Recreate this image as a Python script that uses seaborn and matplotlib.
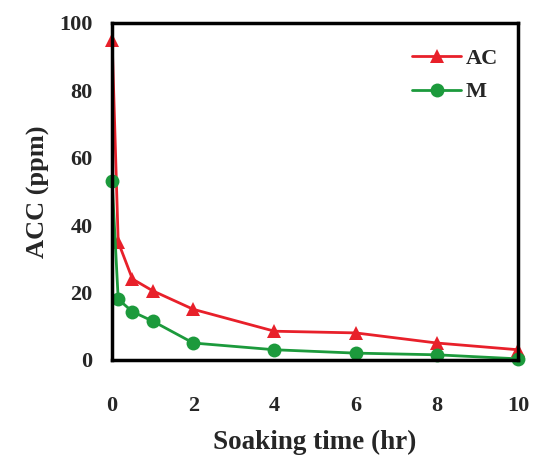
import pandas as pd
import numpy as np
import seaborn as sns
import matplotlib.pyplot as plt

# data
time_ac = [0, 0.15, 0.5, 1, 2, 4, 6, 8, 10]
acc_ac = [95, 35, 24, 20.5, 15, 8.5, 8, 5, 3]
time_m = [0, 0.15, 0.5, 1, 2, 4, 6, 8, 10]
acc_m = [53, 18, 14.3, 11.5, 5, 3, 2, 1.5, 0.3]

df = pd.concat([
    pd.DataFrame({'t': time_ac, 'acc': acc_ac, 'grp': 'AC'}),
    pd.DataFrame({'t': time_m, 'acc': acc_m, 'grp': 'M'}),
])

sns.set_style('white')
plt.rcParams['font.family'] = ['Liberation Serif', 'DejaVu Serif']
plt.rcParams['font.weight'] = 'bold'

fig = plt.figure(figsize=(5.39, 4.59), dpi=100)
ax = fig.add_axes([0.208, 0.216, 0.753, 0.734])

sns.lineplot(data=df, x='t', y='acc', hue='grp', style='grp',
             palette={'AC': '#e8202a', 'M': '#1c9a3c'},
             markers={'AC': '^', 'M': 'o'}, dashes=False,
             markersize=10, markeredgewidth=0, linewidth=2, ax=ax)
# markers on the frame are drawn whole in the original
for ln in ax.lines:
    ln.set_clip_on(False)

ax.set_xlim(0, 10)
ax.set_ylim(0, 100)
ax.set_xticks([0, 2, 4, 6, 8, 10])
ax.set_yticks([0, 20, 40, 60, 80, 100])
ax.tick_params(axis='both', labelsize=16, length=0)
ax.tick_params(axis='x', pad=26)
ax.tick_params(axis='y', pad=14)
for lab in ax.get_xticklabels() + ax.get_yticklabels():
    lab.set_fontweight('bold')
ax.set_xlabel('Soaking time (hr)', fontsize=19.5, fontweight='bold', labelpad=10)
ax.set_ylabel('ACC (ppm)', fontsize=19, fontweight='bold', labelpad=7)
for s in ax.spines.values():
    s.set_linewidth(2.5)
    s.set_color('black')

leg = ax.legend(title=None, frameon=False, loc='upper right',
                bbox_to_anchor=(1.0, 0.985), fontsize=16,
                handlelength=2.2, labelspacing=0.6, handletextpad=0.2)
for t in leg.get_texts():
    t.set_fontweight('bold')

fig.savefig('out.png', dpi=100)
